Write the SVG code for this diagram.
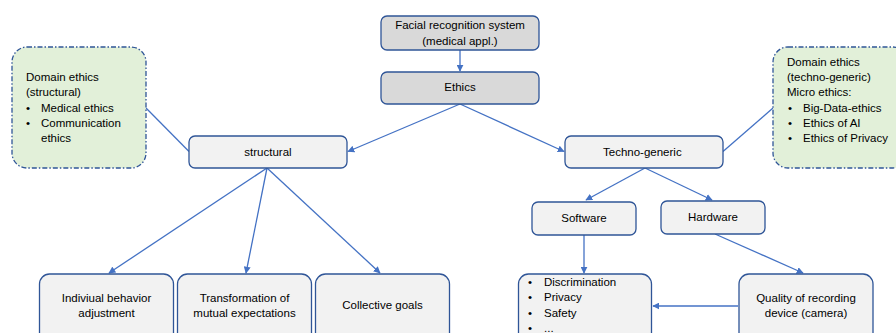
<svg xmlns="http://www.w3.org/2000/svg" width="896" height="333" viewBox="0 0 896 333">
<defs>
<style>
.box{fill:#f2f2f2;stroke:#2f5597;stroke-width:1.3}
.dark{fill:#d9d9d9}
.green{fill:#e2f0d9;stroke:#2f5597;stroke-width:1.3;stroke-dasharray:5 2 1.5 2}
.t{font-family:"Liberation Sans",Arial,sans-serif;font-size:11.5px;fill:#000}
.c{text-anchor:middle}
.ln{stroke:#4472c4;stroke-width:1.3;fill:none}
.arr{marker-end:url(#ah)}
</style>
<marker id="ah" viewBox="0 0 10 10" refX="9" refY="5" markerWidth="7" markerHeight="7" markerUnits="userSpaceOnUse" orient="auto">
<path d="M0,0 L10,5 L0,10 z" fill="#4472c4"/>
</marker>
</defs>
<rect width="896" height="333" fill="#ffffff"/>
<g id="connectors">
<line class="ln arr" x1="460" y1="50" x2="460" y2="71"/>
<line class="ln arr" x1="460" y1="104" x2="348" y2="151.5"/>
<line class="ln arr" x1="460" y1="104" x2="564" y2="151.5"/>
<line class="ln" x1="146" y1="108" x2="189" y2="151.5"/>
<line class="ln" x1="723" y1="151.5" x2="773" y2="108"/>
<line class="ln arr" x1="267" y1="168" x2="109" y2="273"/>
<line class="ln arr" x1="267" y1="168" x2="246" y2="273"/>
<line class="ln arr" x1="267" y1="168" x2="380" y2="273"/>
<line class="ln arr" x1="645" y1="168" x2="586" y2="200"/>
<line class="ln arr" x1="645" y1="168" x2="712" y2="200"/>
<line class="ln arr" x1="584" y1="235" x2="584" y2="273"/>
<line class="ln arr" x1="715" y1="234" x2="803" y2="273"/>
<line class="ln arr" x1="738" y1="306" x2="653" y2="306"/>
</g>
<g id="facial">
<rect class="box dark" x="381" y="16" width="158" height="34" rx="6"/>
<text class="t c" x="460" y="29">Facial recognition system</text>
<text class="t c" x="460" y="45">(medical appl.)</text>
</g>
<g id="ethics">
<rect class="box dark" x="381" y="72" width="158" height="32" rx="6"/>
<text class="t c" x="460" y="91">Ethics</text>
</g>
<g id="structural">
<rect class="box" x="189" y="136" width="158" height="32" rx="6"/>
<text class="t c" x="268" y="155.5">structural</text>
</g>
<g id="techno">
<rect class="box" x="565" y="136" width="158" height="32" rx="6"/>
<text class="t" x="603" y="155.5">Techno-generic</text>
</g>
<g id="domain-structural">
<rect class="green" x="12" y="47" width="134" height="121" rx="15"/>
<text class="t" x="26" y="81">Domain ethics</text>
<text class="t" x="26" y="96">(structural)</text>
<text class="t" x="26" y="112">•</text><text class="t" x="41" y="112">Medical ethics</text>
<text class="t" x="26" y="127">•</text><text class="t" x="41" y="127">Communication</text>
<text class="t" x="41" y="142">ethics</text>
</g>
<g id="domain-techno">
<rect class="green" x="773" y="47" width="135" height="121" rx="15"/>
<text class="t" x="787" y="65.5">Domain ethics</text>
<text class="t" x="787" y="81">(techno-generic)</text>
<text class="t" x="787" y="96">Micro ethics:</text>
<text class="t" x="788" y="112">•</text><text class="t" x="803" y="112">Big-Data-ethics</text>
<text class="t" x="788" y="127">•</text><text class="t" x="803" y="127">Ethics of AI</text>
<text class="t" x="788" y="142">•</text><text class="t" x="803" y="142">Ethics of Privacy</text>
</g>
<g id="software">
<rect class="box" x="532" y="202" width="104" height="33" rx="6"/>
<text class="t c" x="584" y="221.5">Software</text>
</g>
<g id="hardware">
<rect class="box" x="661" y="201" width="104" height="33" rx="6"/>
<text class="t c" x="713" y="220.5">Hardware</text>
</g>
<g id="individual">
<rect class="box" x="39.5" y="274" width="134" height="70" rx="10"/>
<text class="t c" x="106.5" y="301.5">Indiviual behavior</text>
<text class="t c" x="106.5" y="317">adjustment</text>
</g>
<g id="transformation">
<rect class="box" x="177.5" y="274" width="134" height="70" rx="10"/>
<text class="t c" x="244.5" y="301.5">Transformation of</text>
<text class="t c" x="244.5" y="317">mutual expectations</text>
</g>
<g id="collective">
<rect class="box" x="315.5" y="274" width="134" height="70" rx="10"/>
<text class="t c" x="382.5" y="309">Collective goals</text>
</g>
<g id="issues">
<rect class="box" x="518.5" y="274" width="133" height="70" rx="10"/>
<text class="t" x="528" y="285.5">•</text><text class="t" x="544" y="285.5">Discrimination</text>
<text class="t" x="528" y="301">•</text><text class="t" x="544" y="301">Privacy</text>
<text class="t" x="528" y="316.5">•</text><text class="t" x="544" y="316.5">Safety</text>
<text class="t" x="528" y="332">•</text><text class="t" x="544" y="332">...</text>
</g>
<g id="quality">
<rect class="box" x="739" y="274" width="134" height="70" rx="10"/>
<text class="t c" x="806" y="301.5">Quality of recording</text>
<text class="t c" x="806" y="317">device (camera)</text>
</g>
</svg>
